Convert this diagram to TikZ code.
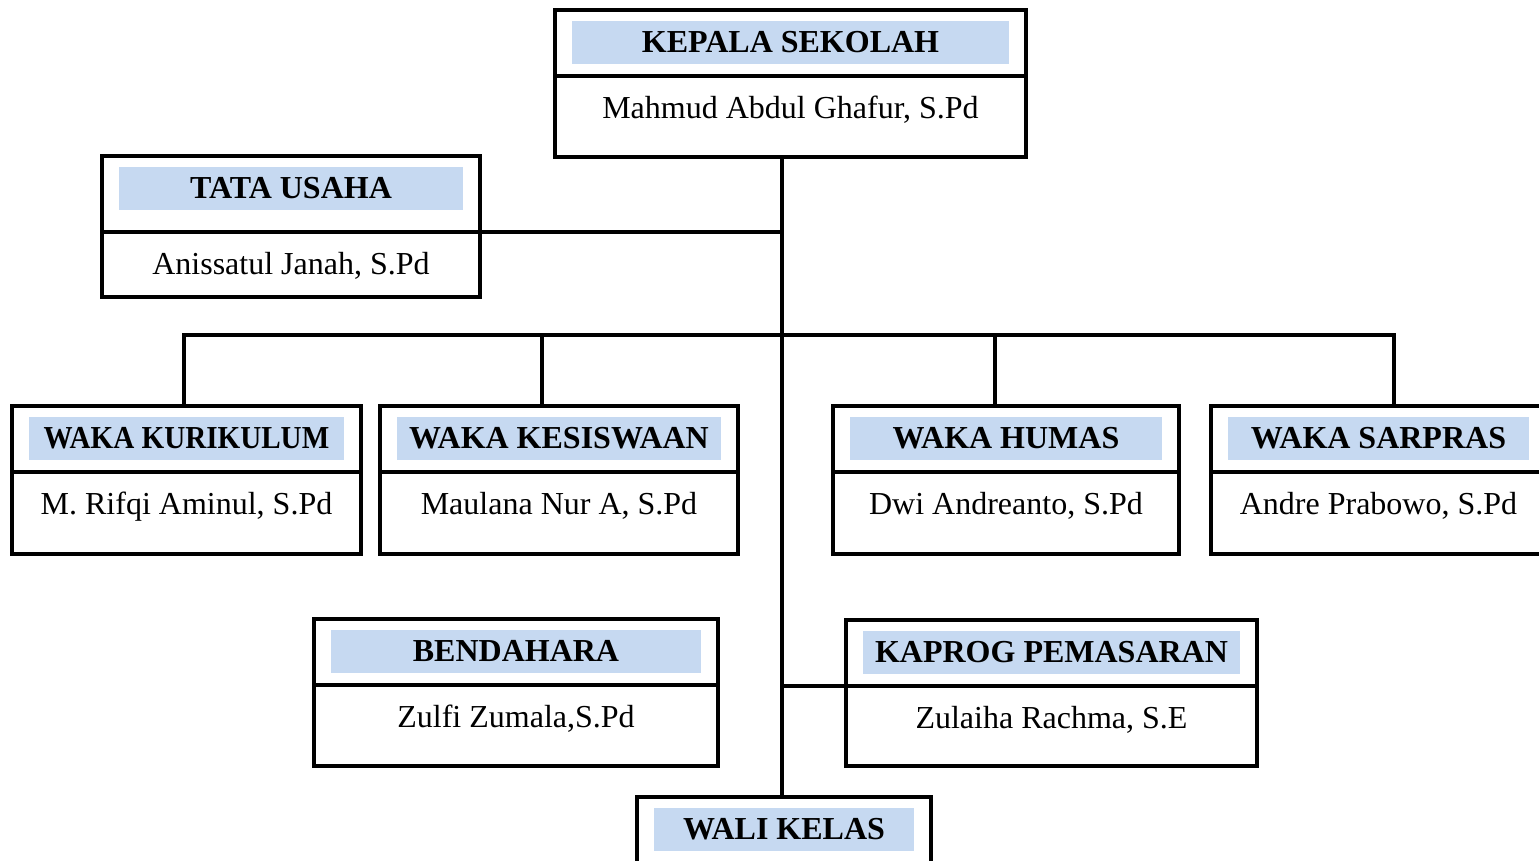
\documentclass[tikz,border=0pt]{standalone}
\usepackage{fontspec}
\setmainfont{Liberation Serif}
\usetikzlibrary{fit}
\definecolor{headblue}{RGB}{198,217,241}
\newcommand\headbox[7]{% #1 name #2 x1 #3 y1 #4 x2 #5 y2 #6 div #7 title
  \path (#2,#3) coordinate (#1-nw) (#4,#5) coordinate (#1-se)
        (#2,#6) coordinate (#1-divl) (#4,#6) coordinate (#1-divr);
  \node[headfill, fit={({#2+17},{#3+11}) ({#4-17},{#3+54})}] (#1-head) {};
  \node[frame, fit=(#1-nw)(#1-se)] (#1) {};
  \node[titletext] (#1-title) at ({(#2+#4)/2},{#3+42}) {#7};
}
\newcommand\orgbox[8]{% as above, #8 person
  \headbox{#1}{#2}{#3}{#4}{#5}{#6}{#7}
  \draw[conn] (#1-divl) -- (#1-divr);
  \node[persontext] (#1-person) at ({(#2+#4)/2},{#6+42}) {#8};
}
\begin{document}
\begin{tikzpicture}[x=0.01cm,y=-0.01cm,
  frame/.style={draw=black, line width=0.95pt, inner sep=0pt},
  headfill/.style={fill=headblue, draw=none, inner sep=0pt},
  conn/.style={draw=black, line width=0.95pt},
  titletext/.style={font=\fontsize{9.1}{11}\selectfont\bfseries, anchor=base, inner sep=0pt},
  persontext/.style={font=\fontsize{9.1}{11}\selectfont, anchor=base, inner sep=0pt}]
\useasboundingbox (0,0) rectangle (1539,860);
\clip (0,0) rectangle (1539,860);

\orgbox{kepala}{555}{10}{1026}{157}{76}{KEPALA SEKOLAH}{Mahmud Abdul Ghafur, S.Pd}
\orgbox{tata}{102}{156}{480}{297}{232}{TATA USAHA}{Anissatul Janah, S.Pd}
\orgbox{kurikulum}{12}{406}{361}{554}{472}{\scalebox{0.91}[1]{WAKA KURIKULUM}}{M. Rifqi Aminul, S.Pd}
\orgbox{kesiswaan}{380}{406}{738}{554}{472}{WAKA KESISWAAN}{Maulana Nur A, S.Pd}
\orgbox{humas}{833}{406}{1179}{554}{472}{WAKA HUMAS}{Dwi Andreanto, S.Pd}
\orgbox{sarpras}{1211}{406}{1546}{554}{472}{WAKA SARPRAS}{Andre Prabowo, S.Pd}
\orgbox{bendahara}{314}{619}{718}{766}{685}{BENDAHARA}{Zulfi Zumala,S.Pd}
\orgbox{kaprog}{846}{620}{1257}{766}{686}{KAPROG PEMASARAN}{Zulaiha Rachma, S.E}
\headbox{wali}{637}{797}{931}{920}{863}{WALI KELAS}

\coordinate (spine) at (782,0);
\path (184,335) coordinate (d1) (542,335) coordinate (d2)
      (995,335) coordinate (d3) (1394,335) coordinate (d4);
\draw[conn] (kepala.south -| spine) -- (wali.north -| spine);
\draw[conn] (tata-divr) -- (tata-divr -| spine);
\draw[conn] (d1 |- kurikulum.north) -- (d1) -- (d4) -- (d4 |- sarpras.north);
\draw[conn] (d2) -- (d2 |- kesiswaan.north);
\draw[conn] (d3) -- (d3 |- humas.north);
\draw[conn] (spine |- kaprog-divl) -- (kaprog-divl);
\end{tikzpicture}
\end{document}
